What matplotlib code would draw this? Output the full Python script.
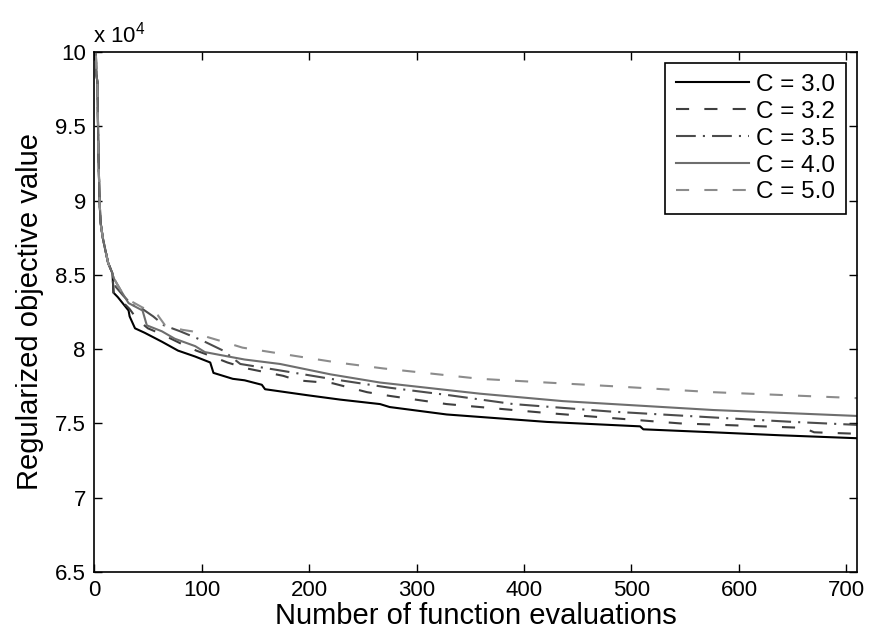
import numpy as np
import matplotlib
matplotlib.use("Agg")
import matplotlib.pyplot as plt

plt.rcParams['font.family'] = ['Liberation Sans', 'DejaVu Sans']
plt.rcParams['mathtext.fontset'] = 'custom'
plt.rcParams['mathtext.rm'] = 'Liberation Sans'
plt.rcParams['mathtext.it'] = 'Liberation Sans'

# shared start of all runs (objective in units of 1e4)
head_x = [0, 1, 2, 3, 4, 5, 6, 8, 10, 13, 17]
head_y = [10.6, 10.2, 9.85, 9.8, 9.3, 9.0, 8.85, 8.75, 8.68, 8.58, 8.51]

c30_x = [18, 22, 32, 33, 38, 47, 63, 78, 94, 108, 111, 129, 140, 156, 159, 198, 229, 266, 275, 328, 421, 508, 511, 576, 638, 710]
c30_y = [8.38, 8.35, 8.26, 8.22, 8.14, 8.11, 8.05, 7.99, 7.95, 7.91, 7.84, 7.80, 7.79, 7.76, 7.73, 7.69, 7.66, 7.63, 7.61, 7.56, 7.51, 7.48, 7.46, 7.44, 7.42, 7.40]

c32_x = [18, 22, 33, 40, 50, 63, 80, 95, 110, 124, 142, 176, 189, 222, 254, 275, 328, 421, 545, 660, 670, 710]
c32_y = [8.38, 8.35, 8.27, 8.20, 8.14, 8.10, 8.04, 7.99, 7.95, 7.91, 7.87, 7.82, 7.79, 7.77, 7.71, 7.685, 7.63, 7.57, 7.50, 7.47, 7.44, 7.43]

c35_x = [20, 27, 35, 45, 55, 65, 80, 100, 120, 136, 170, 220, 275, 330, 390, 480, 576, 650, 710]
c35_y = [8.42, 8.36, 8.30, 8.27, 8.22, 8.16, 8.12, 8.06, 7.99, 7.90, 7.86, 7.80, 7.74, 7.69, 7.63, 7.58, 7.54, 7.51, 7.49]

c40_x = [18, 26, 32, 45, 49, 63, 75, 94, 103, 125, 140, 173, 220, 266, 359, 436, 576, 710]
c40_y = [8.48, 8.38, 8.31, 8.26, 8.16, 8.12, 8.07, 8.02, 7.98, 7.95, 7.93, 7.90, 7.83, 7.775, 7.70, 7.65, 7.59, 7.55]

c50_x = [18, 26, 35, 45, 55, 59, 66, 82, 91, 106, 120, 138, 173, 226, 269, 359, 483, 576, 710]
c50_y = [8.48, 8.38, 8.32, 8.28, 8.25, 8.23, 8.16, 8.13, 8.12, 8.08, 8.05, 8.01, 7.97, 7.91, 7.87, 7.80, 7.75, 7.71, 7.67]

labels = ['C = 3.0', 'C = 3.2', 'C = 3.5', 'C = 4.0', 'C = 5.0']
series = [(c30_x, c30_y), (c32_x, c32_y), (c35_x, c35_y), (c40_x, c40_y), (c50_x, c50_y)]
colors = ['#000000', '#3f3f3f', '#4c4c4c', '#6e6e6e', '#8c8c8c']
styles = ['-', (0, (6.3, 7.3)), (0, (9.5, 3.4, 1, 3.4)), '-', (0, (6.3, 7.3))]

fig = plt.figure(figsize=(8.72, 6.39), dpi=100)
ax = fig.add_axes([0.108, 0.105, 0.875, 0.8135])

for (xs, ys), lab, col, ls in zip(series, labels, colors, styles):
    ax.plot(head_x + xs, head_y + ys, color=col, linestyle=ls, lw=1.5, label=lab)

ax.set_xlim(0, 710)
ax.set_ylim(6.5, 10)
ax.set_xticks(np.arange(0, 701, 100))
ax.set_yticks([6.5, 7, 7.5, 8, 8.5, 9, 9.5, 10])
ax.set_yticklabels(['6.5', '7', '7.5', '8', '8.5', '9', '9.5', '10'])
ax.tick_params(direction='in', length=6, width=1, top=True, right=True,
               labelsize=16, colors='black', pad=6)
for s in ax.spines.values():
    s.set_linewidth(1.2)

ax.set_xlabel('Number of function evaluations', fontsize=21, labelpad=0.5)
ax.set_ylabel('Regularized objective value', fontsize=21, labelpad=8)
ax.text(-0.002, 1.019, 'x 10$^{4}$', transform=ax.transAxes, fontsize=16,
        ha='left', va='baseline')

leg = ax.legend(loc='upper right', fontsize=17.5, handlelength=3.0,
                fancybox=False, framealpha=1, edgecolor='black',
                borderaxespad=0.45, labelspacing=0.2, handletextpad=0.3,
                borderpad=0.45)
leg.get_frame().set_linewidth(1.2)

fig.savefig('out.png', dpi=100)
